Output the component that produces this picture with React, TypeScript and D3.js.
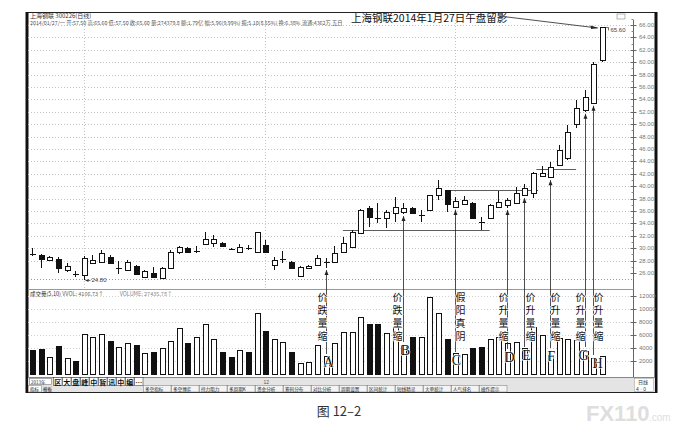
import * as d3 from "d3";

// daily candles, 上海钢联 300226, ending 2014/01/27
const opens = [
  29.1, 28.9, 28.1, 28.3, 26.5, 25.9, 25.7, 27.6, 27.8, 28.6,
  26.8, 26.5, 27.1, 25.4, 26.0, 25.2, 26.8, 29.4, 30.0, 29.5,
  30.7, 30.8, 30.8, 29.95, 29.4, 30.0, 29.4, 30.5, 27.3, 28.1,
  27.8, 25.5, 26.8, 27.3, 27.7, 27.8, 29.4, 30.2, 32.45, 36.5,
  34.9, 34.9, 35.7, 35.85, 36.5, 35.3, 36.2, 38.6, 39.4, 36.65,
  37.1, 37.3, 34.3, 34.9, 36.65, 37.0, 37.3, 38.6, 38.9, 41.65,
  41.5, 43.4, 44.55, 50.0, 52.3, 53.4, 60.35,
];
const highs = [
  30.0, 29.1, 28.7, 28.6, 27.6, 26.3, 28.7, 28.9, 29.7, 28.9,
  27.9, 28.1, 27.3, 26.5, 27.0, 27.0, 29.7, 30.4, 30.2, 30.35,
  32.6, 32.1, 31.0, 30.0, 30.7, 30.5, 32.6, 31.3, 28.6, 29.55,
  27.9, 27.1, 27.3, 28.9, 28.4, 30.35, 31.8, 32.9, 36.3, 36.8,
  37.3, 36.2, 38.3, 37.3, 36.65, 36.2, 38.6, 41.0, 39.4, 38.3,
  38.4, 37.45, 35.0, 37.1, 39.2, 38.1, 39.9, 40.35, 42.3, 43.3,
  43.9, 46.65, 49.9, 53.9, 55.5, 60.0, 65.6,
];
const lows = [
  28.8, 26.8, 27.9, 26.0, 26.2, 25.4, 24.8, 27.4, 27.6, 27.4,
  25.8, 26.3, 25.7, 25.4, 25.2, 25.0, 26.6, 29.1, 29.2, 29.2,
  30.5, 30.2, 30.3, 29.7, 29.4, 29.7, 29.4, 29.2, 26.5, 27.6,
  26.6, 25.5, 26.8, 27.1, 26.8, 27.8, 29.4, 30.0, 32.3, 33.4,
  34.1, 33.3, 34.2, 35.5, 35.5, 34.2, 36.0, 37.8, 35.8, 36.5,
  37.0, 34.7, 32.9, 34.7, 36.5, 36.5, 37.1, 38.4, 38.1, 41.5,
  41.3, 43.26, 44.2, 49.4, 52.0, 53.3, 60.0,
];
const closes = [
  29.0, 28.3, 28.6, 26.8, 27.1, 25.8, 28.4, 28.1, 29.2, 27.6,
  26.85, 27.8, 25.8, 26.3, 25.4, 26.8, 29.4, 30.2, 29.4, 29.6,
  31.5, 31.5, 30.35, 29.8, 30.2, 29.85, 32.6, 29.4, 28.1, 28.2,
  26.8, 27.0, 27.1, 28.4, 27.8, 29.2, 30.8, 32.6, 36.2, 35.0,
  34.8, 35.8, 36.65, 36.5, 35.7, 35.4, 38.6, 39.7, 37.1, 37.6,
  37.8, 34.9, 34.2, 37.0, 37.45, 37.8, 38.9, 39.7, 42.1, 42.1,
  43.1, 45.8, 48.7, 52.6, 54.4, 59.64, 65.6,
];
const volumes = [
  3690, 3890, 2660, 4260, 2410, 2050, 6100, 5740, 6150, 5070,
  4100, 4720, 4410, 3180, 3330, 3950, 5070, 7020, 4770, 5740,
  7690, 5330, 3430, 2560, 3640, 3380, 9330, 6560, 5330, 4920,
  3430, 1640, 1900, 4410, 2770, 4820, 6500, 6500, 8720, 7640,
  7640, 6260, 7380, 4460, 5740, 5640, 11800, 9330, 5330, 3180,
  3080, 3950, 4100, 5330, 5740, 4720, 4970, 3950, 7280, 6000,
  2920, 5490, 5330, 5230, 3590, 2410, 2770,
];

const priceTicks = [26, 28, 30, 32, 34, 36, 38, 40, 42, 44, 46, 48, 50, 52, 54, 56, 58, 60, 62, 64, 66];
const volumeTicks = [2000, 4000, 6000, 8000, 10000, 12000];
const monthStarts = [6, 27, 49];

// horizontal reference lines drawn by the author (candle index range, price)
const refFrom = [36, 48, 58.4];
const refTo = [53, 58.6, 63];
const refValue = [32.9, 39.4, 42.8];

// callouts under the candles
const annIndex = [34, 43, 49, 55, 57, 60, 64, 65];
const annText = ["价跌量缩", "价跌量缩", "假阳真阴", "价升量缩", "价升量缩", "价升量缩", "价升量缩", "价升量缩"];
const annLetter = ["A", "B", "C", "D", "E", "F", "G", "H"];
const annTextDx = [-4, -6, 5, -4, 6, 5, -5, 5];
const annLetterDx = [2, 2, 1, 2, 2, 1, -2, 4];
const annLetterY = [362, 350, 360, 357, 355, 356, 355, 363];

const groupButtons = ["区", "大", "盘", "峰", "中", "暂", "讯", "中", "编", "⋯"];
const tabLabels = [
  "多空指标", "多空博弈", "持力阻力", "多周期K", "资金分析", "筹码分布", "对比分析",
  "周期设置", "区间统计", "短线精灵", "大单统计", "人气排名", "操作提示",
];

const CJK = "'Noto Sans CJK SC', sans-serif";
const SANS = "'Liberation Sans', Arial, sans-serif";
const SERIF = "'Liberation Serif', 'Times New Roman', serif";

export default function App() {
  const n = closes.length;
  const x = d3.scaleLinear().domain([0, n - 1]).range([32, 602]);
  const y = d3.scaleLinear().domain([26, 66]).range([273, 25]);
  const yv = d3.scaleLinear().domain([0, 12000]).range([374, 296]);
  const px = (i: number) => Math.round(x(i)) + 0.5;
  const axisX = 633.5;

  const last = n - 1;
  const lowIdx = d3.minIndex(lows);

  return (
    <div style={{ position: "fixed", left: 0, top: 0, width: 677, height: 428, background: "#fff" }}>
      <svg width={677} height={428} style={{ display: "block" }}>
        {/* frame */}
        <rect x={27} y={12.5} width={629} height={380} fill="#fff" stroke="#222" strokeWidth={1} />
        <line x1={27} x2={27} y1={12} y2={393} stroke="#111" strokeWidth={3} />
        <line x1={656} x2={656} y1={12} y2={393} stroke="#111" strokeWidth={3} />

        {/* header */}
        <text x={30} y={18} fontSize={6} fontFamily={CJK} fill="#333">上海钢联 300226(日线)</text>
        <text x={30} y={25} fontSize={5.3} fontFamily={CJK} fill="#555">
          2014/01/27/一  开:57.50 高:65.60 低:57.50 收:65.60 量:274379.8 额:1.79亿 幅:5.96(9.99%) 振:5.10(8.55%) 换:6.38% 流通:4362万 五日
        </text>
        <rect x={617} y={14} width={8} height={5} fill="none" stroke="#888" strokeWidth={0.6} />

        {/* price grid */}
        {priceTicks.filter((t) => t > 26).map((t) => (
          <line key={t} x1={28} x2={axisX} y1={Math.round(y(t)) + 0.5} y2={Math.round(y(t)) + 0.5}
            stroke="#c4c4c4" strokeDasharray="1,2" />
        ))}
        <line x1={28} x2={axisX} y1={279.5} y2={279.5} stroke="#999" strokeDasharray="1,2" />
        {monthStarts.map((m) => (
          <line key={m} x1={px(m)} x2={px(m)} y1={20} y2={289} stroke="#c4c4c4" strokeDasharray="1,2" />
        ))}

        {/* price axis */}
        <line x1={axisX} x2={axisX} y1={20} y2={377} stroke="#666" />
        {priceTicks.map((t) => (
          <g key={t}>
            <line x1={axisX - 3} x2={axisX + 3} y1={Math.round(y(t)) + 0.5} y2={Math.round(y(t)) + 0.5} stroke="#666" />
            <line x1={axisX - 2} x2={axisX} y1={Math.round(y(t + 1)) + 0.5} y2={Math.round(y(t + 1)) + 0.5} stroke="#888" />
            <text x={639} y={y(t) + 2} fontSize={6} fontFamily={SANS} fill="#777">{t.toFixed(2)}</text>
          </g>
        ))}

        {/* reference lines */}
        {refValue.map((v, k) => (
          <line key={k} x1={x(refFrom[k])} x2={x(refTo[k])} y1={Math.round(y(v)) + 0.5} y2={Math.round(y(v)) + 0.5}
            stroke="#333" strokeWidth={0.8} />
        ))}

        {/* candles */}
        {closes.map((c, i) => {
          const o = opens[i];
          const up = c >= o;
          const top = Math.round(y(Math.max(o, c)));
          const bot = Math.round(y(Math.min(o, c)));
          const cx = px(i);
          return (
            <g key={i} shapeRendering="crispEdges">
              <line x1={cx} x2={cx} y1={y(highs[i])} y2={y(lows[i])} stroke="#111" />
              {bot - top <= 1 ? (
                <line x1={cx - 3} x2={cx + 3} y1={top + 0.5} y2={top + 0.5} stroke="#111" strokeWidth={up ? 1 : 1.6} />
              ) : (
                <rect x={cx - 2.5} y={top + 0.5} width={5} height={bot - top} fill={up ? "#fff" : "#111"} stroke="#111" />
              )}
            </g>
          );
        })}

        {/* extreme labels */}
        <line x1={px(lowIdx) + 1} x2={px(lowIdx) + 6} y1={y(lows[lowIdx])} y2={y(lows[lowIdx])} stroke="#333" strokeWidth={0.7} />
        <path d={`M${px(lowIdx) + 1},${y(lows[lowIdx])} l3,-1.5 l0,3 z`} fill="#333" />
        <text x={px(lowIdx) + 7} y={y(lows[lowIdx]) + 2} fontSize={6} fontFamily={SANS} fill="#444">
          {lows[lowIdx].toFixed(2)}
        </text>
        <line x1={px(last) + 3} x2={px(last) + 6} y1={y(highs[last])} y2={y(highs[last])} stroke="#333" strokeWidth={0.7} />
        <line x1={px(last) + 6} x2={px(last) + 6} y1={y(highs[last])} y2={y(highs[last]) + 3} stroke="#333" strokeWidth={0.7} />
        <text x={px(last) + 8} y={y(highs[last]) + 5} fontSize={6} fontFamily={SANS} fill="#444">
          {highs[last].toFixed(2)}
        </text>

        {/* top note */}
        <text x={351} y={22} fontSize={10.5} fontFamily={CJK} fill="#111">上海钢联2014年1月27日午盘留影</text>
        <line x1={499} y1={16} x2={px(last) - 5} y2={y(highs[last]) + 0.5} stroke="#222" strokeWidth={0.8} />
        <path d={`M${px(last) - 4},${y(highs[last]) + 0.5} l-8,-2.6 l0.6,3.6 z`} fill="#222" />

        {/* volume panel */}
        <line x1={28} x2={axisX} y1={289.5} y2={289.5} stroke="#999" />
        <text x={30} y={296} fontSize={5.5} fontFamily={CJK} fill="#333">
          成交量(5,10)  <tspan fill="#666">VVOL: 4106.73↑</tspan>
          <tspan dx={16} fill="#888">VOLUME: 27435.78↑</tspan>
        </text>
        {volumeTicks.map((t) => (
          <g key={t}>
            <line x1={28} x2={axisX} y1={Math.round(yv(t)) + 0.5} y2={Math.round(yv(t)) + 0.5}
              stroke="#d0d0d0" strokeDasharray="1,2" />
            <line x1={axisX - 3} x2={axisX + 3} y1={Math.round(yv(t)) + 0.5} y2={Math.round(yv(t)) + 0.5} stroke="#666" />
            <text x={639} y={yv(t) + 2} fontSize={6} fontFamily={SANS} fill="#777">{t}</text>
          </g>
        ))}
        {volumes.map((v, i) => {
          const up = closes[i] >= opens[i];
          const top = Math.round(yv(v));
          return (
            <rect key={i} x={px(i) - 2.5} y={top + 0.5} width={5} height={Math.round(yv(0)) - top}
              fill={up ? "#fff" : "#111"} stroke="#111" shapeRendering="crispEdges" />
          );
        })}

        {/* callouts */}
        {annIndex.map((idx, k) => {
          const cx = px(idx);
          const y0 = y(lows[idx]) + 2;
          const y1 = annLetterY[k] - 8;
          return (
            <g key={k}>
              <line x1={cx} x2={cx} y1={y0} y2={y1} stroke="#222" strokeWidth={0.8} />
              <path d={`M${cx},${y0} l-2,5 l4,0 z`} fill="#222" />
              <text x={cx + annTextDx[k]} y={292} fontSize={10} fontFamily={CJK}
                style={{ writingMode: "vertical-rl", letterSpacing: "3px" }}
                fill="#111" stroke="#fff" strokeWidth={1.5} paintOrder="stroke">{annText[k]}</text>
              <text x={cx + annLetterDx[k]} y={annLetterY[k] + 5} textAnchor="middle" fontSize={14} fontFamily={SERIF}
                fill="#111" stroke="#fff" strokeWidth={1.2} paintOrder="stroke">{annLetter[k]}</text>
            </g>
          );
        })}

        {/* bottom tab strip */}
        <rect x={28} y={377} width={627} height={15} fill="#e4e4e4" />
        <line x1={28} x2={655} y1={377.5} y2={377.5} stroke="#888" />
        <rect x={29.5} y={378.5} width={22} height={6} fill="#fff" stroke="#777" strokeWidth={0.6} />
        <text x={31} y={383.5} fontSize={4.5} fontFamily={CJK} fill="#333">2013年</text>
        {groupButtons.map((b, k) => (
          <g key={k}>
            <rect x={53.5 + k * 9} y={377.5} width={8.5} height={8} fill="#fff" stroke="#444" strokeWidth={0.6} />
            <text x={57.7 + k * 9} y={384.5} fontSize={7} textAnchor="middle" fontFamily={CJK} fontWeight={700} fill="#111">{b}</text>
          </g>
        ))}
        <rect x={28.5} y={385.5} width={13} height={6.5} fill="#fff" stroke="#777" strokeWidth={0.5} />
        <text x={30} y={390.5} fontSize={4.5} fontFamily={CJK} fill="#111">指标</text>
        <text x={43} y={390.5} fontSize={4.5} fontFamily={CJK} fill="#111">模板</text>
        {tabLabels.map((t, k) => (
          <g key={k}>
            <rect x={143.5 + k * 28} y={385.5} width={27.5} height={6.5} fill="#f4f4f4" stroke="#777" strokeWidth={0.5} />
            <text x={145 + k * 28} y={390.5} fontSize={4.6} fontFamily={CJK} fill="#222">{t}</text>
          </g>
        ))}
        <text x={px(monthStarts[1]) - 2} y={384} fontSize={5} fontFamily={SANS} fill="#555">12</text>
        <rect x={634.5} y={378.5} width={19} height={13} fill="#fff" stroke="#999" strokeWidth={0.5} />
        <text x={638} y={384} fontSize={5} fontFamily={CJK} fill="#333">日线</text>
        <text x={636} y={390.5} fontSize={5} fontFamily={SANS} fill="#333">4 · 0</text>

        {/* caption and watermark */}
        <text x={339} y={416} textAnchor="middle" fontSize={13} fontFamily={CJK} fill="#333">图 12–2</text>
        <text x={586} y={421} fontSize={22} fontWeight={700} fontFamily={SANS} fill="#dedede">FX110</text>
        <text x={649} y={421} fontSize={10} fontFamily={SANS} fill="#dedede">.com</text>
      </svg>
    </div>
  );
}
